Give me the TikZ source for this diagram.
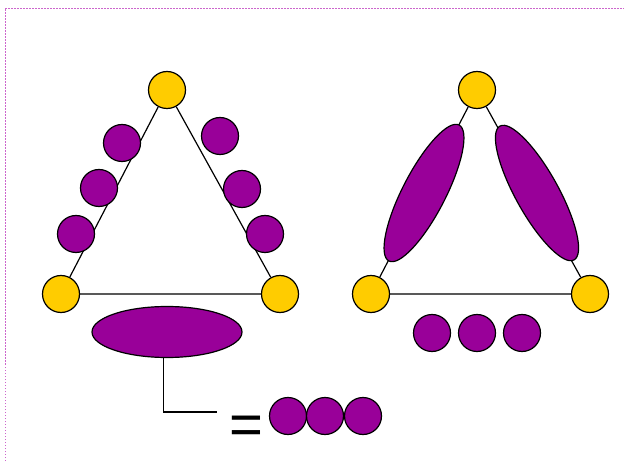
\documentclass[tikz,border=0pt]{standalone}
\usepackage{fontspec}
\newfontfamily\eqfont{Liberation Sans}
\usetikzlibrary{shapes.geometric}
\definecolor{vertyellow}{RGB}{255,204,0}
\definecolor{blobpurple}{RGB}{153,0,153}
\definecolor{framepink}{RGB}{204,102,204}

\begin{document}
\begin{tikzpicture}[x=1pt, y=1pt, line width=1.2pt,
  vert/.style={circle, draw, fill=vertyellow, minimum size=37pt, inner sep=0pt},
  blob/.style={circle, draw, fill=blobpurple, minimum size=37pt, inner sep=0pt},
  bigblob/.style={ellipse, draw, fill=blobpurple, inner sep=0pt}]
\useasboundingbox (0,0) rectangle (624,461);
% dotted page frame
\draw[framepink, line width=0.8pt, dash pattern=on 1.5pt off 1.5pt] (5,0) -- (5,453) -- (624,453);
% left triangle: separate particles
\node[vert] (la) at (167,371) {};
\node[vert] (lb) at (61,167) {};
\node[vert] (lc) at (280,167) {};
\draw (la) -- (lb) -- (lc) -- (la);
\node[blob] (l1) at (122,318) {};
\node[blob] (l2) at (99,273) {};
\node[blob] (l3) at (76,227) {};
\node[blob] (l4) at (220,325) {};
\node[blob] (l5) at (242,272) {};
\node[blob] (l6) at (265,227) {};
\node[bigblob, minimum width=150pt, minimum height=51pt] (lbig) at (167,129) {};
% legend: one ellipse equals three particles
\coordinate (tip) at (217,49);
\draw ([xshift=-3.5pt]lbig.south) |- (tip);
\node[font=\eqfont\fontsize{58}{58}\selectfont, inner sep=0pt] (eq) at (246,31) {=};
\node[blob] (q1) at (288,45) {};
\node[blob] (q2) at (325,45) {};
\node[blob] (q3) at (363,45) {};
% right triangle: grouped particles
\node[vert] (ra) at (477,371) {};
\node[vert] (rb) at (371,167) {};
\node[vert] (rc) at (590,167) {};
\draw (ra) -- (rb) -- (rc) -- (ra);
\node[bigblob, minimum width=153pt, minimum height=43pt, rotate=62.7] (r1) at (424,268) {};
\node[bigblob, minimum width=153pt, minimum height=43pt, rotate=-61] (r2) at (537,268) {};
\node[blob] (r3) at (432,128) {};
\node[blob] (r4) at (477,128) {};
\node[blob] (r5) at (522,128) {};
\end{tikzpicture}
\end{document}
